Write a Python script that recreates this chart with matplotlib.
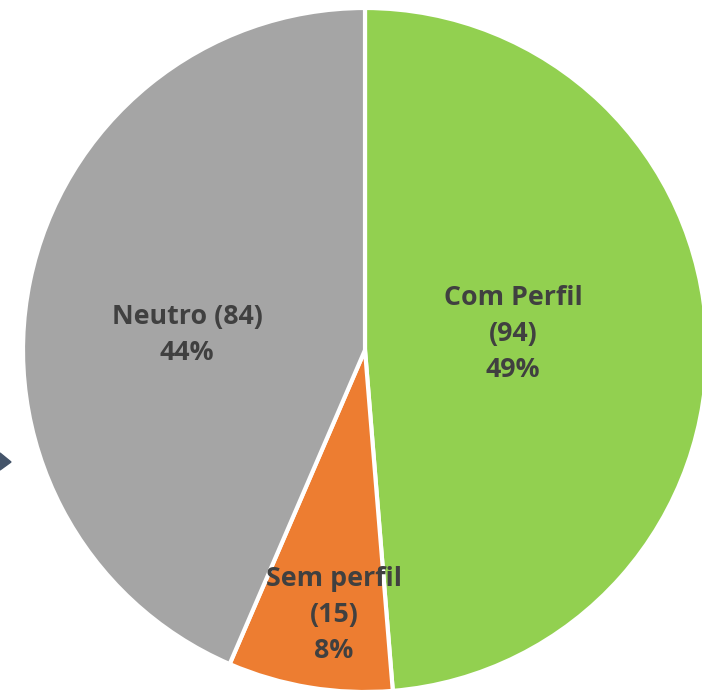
import matplotlib
matplotlib.use("Agg")
import matplotlib.pyplot as plt
from matplotlib.patches import Polygon

categories = ["Com Perfil", "Sem perfil", "Neutro"]
values = [94, 15, 84]
percents = ["49%", "8%", "44%"]
colors = ["#92D050", "#ED7D31", "#A5A5A5"]

W, H = 702, 691
fig = plt.figure(figsize=(W / 100, H / 100), dpi=100)
ax = fig.add_axes([0, 0, 1, 1])

cx, cy, r = 365, H - 350, 342
ax.pie(values, colors=colors, startangle=90, counterclock=False,
       center=(cx, cy), radius=r, frame=True,
       wedgeprops=dict(edgecolor="white", linewidth=3))
ax.set_xlim(0, W)
ax.set_ylim(0, H)
ax.axis("off")

font = dict(family="Open Sans", fontweight="bold", color="#404040", fontsize=19.3,
            ha="center", va="center", linespacing=1.48)
ax.text(513, H - 334, f"{categories[0]}\n({values[0]})\n{percents[0]}", **font)
ax.text(334, H - 615, f"{categories[1]}\n({values[1]})\n{percents[1]}", **font)
ax.text(187, H - 335, f"{categories[2]} ({values[2]})\n{percents[2]}", **font)

ax.add_patch(Polygon([[0, H - 453], [11, H - 462], [0, H - 470]], closed=True,
                     color="#44546A", clip_on=False))

fig.savefig("out.png", dpi=100)
